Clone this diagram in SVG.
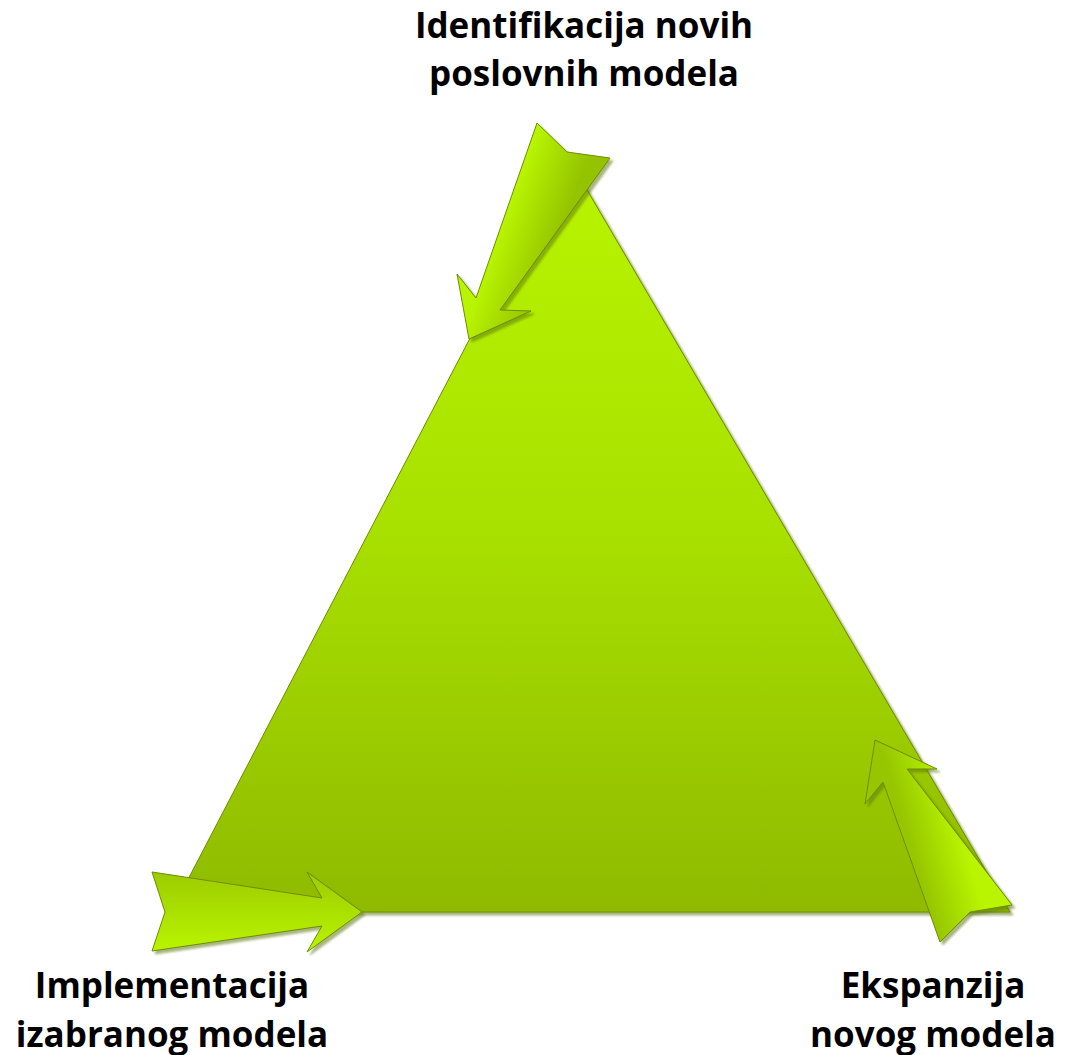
<svg xmlns="http://www.w3.org/2000/svg" width="1067" height="1055" viewBox="0 0 1067 1055">
<defs>
<linearGradient id="triGrad" x1="0" y1="0" x2="0" y2="1">
<stop offset="0" stop-color="#b9f500"/>
<stop offset="0.5" stop-color="#a8e000"/>
<stop offset="1" stop-color="#8fba00"/>
</linearGradient>
<linearGradient id="gTop" gradientUnits="userSpaceOnUse" x1="505" y1="215" x2="560" y2="235">
<stop offset="0" stop-color="#b9f500"/>
<stop offset="1" stop-color="#94c400"/>
</linearGradient>
<linearGradient id="gLeft" gradientUnits="userSpaceOnUse" x1="0" y1="872" x2="0" y2="952">
<stop offset="0" stop-color="#9ccc00"/>
<stop offset="1" stop-color="#b9f500"/>
</linearGradient>
<linearGradient id="gRight" gradientUnits="userSpaceOnUse" x1="915" y1="860" x2="965" y2="845">
<stop offset="0" stop-color="#96c600"/>
<stop offset="1" stop-color="#b9f500"/>
</linearGradient>
<filter id="shadow" x="-20%" y="-20%" width="140%" height="140%">
<feDropShadow dx="3" dy="3" stdDeviation="1" flood-color="#5f7a10" flood-opacity="0.55"/>
</filter>
<style>
.lbl{font-family:"Open Sans","Liberation Sans",sans-serif;font-weight:700;font-size:35px;fill:#000;text-anchor:middle;font-variant-ligatures:none}
.shape{stroke:#6f8c00;stroke-width:1;stroke-linejoin:miter;filter:url(#shadow)}
</style>
</defs>
<g id="triangle">
<polygon class="shape" points="566,154 1010,912 171,912" fill="url(#triGrad)"/>
</g>
<g id="connectors">
<polygon id="arrow-top" class="shape" fill="url(#gTop)" points="537,123 567,152 610,158 500,310 531,311 469,339 457,274 476,298"/>
<polygon id="arrow-left" class="shape" fill="url(#gLeft)" points="152,872 322,898 307,872 362,912 307,952 322,926 152,951 165,912"/>
<polygon id="arrow-right" class="shape" fill="url(#gRight)" points="875,740 937,769 907,769 1012,905 970,912 940,942 883,782 865,804"/>
</g>
<g id="label-top">
<text class="lbl" x="584" y="38">Identifikacija novih</text>
<text class="lbl" x="584" y="86">poslovnih modela</text>
</g>
<g id="label-left">
<text class="lbl" x="172" y="998">Implementacija</text>
<text class="lbl" x="172" y="1047">izabranog modela</text>
</g>
<g id="label-right">
<text class="lbl" x="933" y="998">Ekspanzija</text>
<text class="lbl" x="933" y="1047">novog modela</text>
</g>
</svg>
